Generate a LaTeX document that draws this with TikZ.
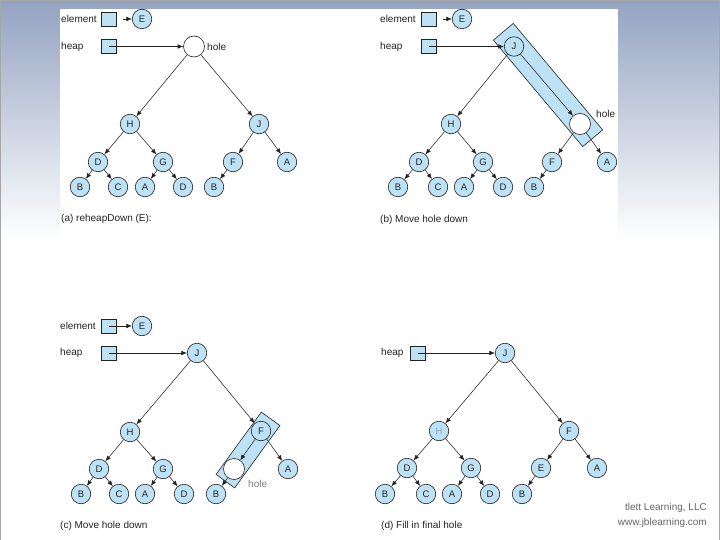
\documentclass[tikz,border=0pt]{standalone}
\usepackage{fontspec}
\setmainfont{Liberation Sans}
\usetikzlibrary{arrows.meta,calc}
\definecolor{nb}{RGB}{190,226,245}
\definecolor{bgtop}{RGB}{148,163,194}
\definecolor{ink}{RGB}{35,35,35}
\definecolor{lighttxt}{RGB}{140,170,200}
\begin{document}
\begin{tikzpicture}[x=1pt,y=-1pt,
  tn/.style={circle,draw=ink,fill=nb,minimum size=19.5pt,inner sep=0pt,line width=0.6pt,font=\fontsize{9.5}{10}\selectfont,text=ink},
  holec/.style={circle,draw=ink,fill=white,minimum size=21pt,inner sep=0pt,line width=0.6pt},
  tb/.style={draw=ink,fill=nb,minimum width=15pt,minimum height=14pt,inner sep=0pt,line width=0.6pt},
  lbl/.style={anchor=west,font=\fontsize{10}{11}\selectfont,text=ink,inner sep=0pt},
  arr/.style={-{Latex[length=5.5pt,width=4.5pt]},line width=0.55pt,draw=ink},
  band/.style={draw=ink,fill=nb,line width=0.6pt,inner sep=0pt}]
\useasboundingbox (0,0) rectangle (720,540);
\fill[white] (0,0) rectangle (720,540);
\shade[top color=bgtop,bottom color=white] (0,0) rectangle (720,240);
\fill[white] (60,9) rectangle (618,540);
\draw[gray!70,line width=1.5pt] (0.5,540) -- (0.5,0.5) -- (719.5,0.5) -- (719.5,540);

% ---------- panel (a)
\node[lbl] (ael) at (61,19) {element};
\node[tb] (aeb) at (108.5,19) {};
\node[tn] (aE) at (142,19) {E};
\coordinate (aes) at (123,19);
\draw[arr] (aes) -- (aE);
\node[lbl] (ahl) at (61,46.5) {heap};
\node[tb] (ahb) at (108.5,46.5) {};
\node[holec] (ar) at (194,46.5) {};
\node[lbl] (ahole) at (207,46.5) {hole};
\node[tn] (aH) at (130,124) {H};
\node[tn] (aJ) at (259,124) {J};
\node[tn] (aD) at (98,162) {D};
\node[tn] (aG) at (163,162) {G};
\node[tn] (aF) at (233,162) {F};
\node[tn] (aA) at (287,162) {A};
\node[tn] (aB1) at (80,187) {B};
\node[tn] (aC1) at (118,187) {C};
\node[tn] (aA1) at (145,187) {A};
\node[tn] (aD1) at (183,187) {D};
\node[tn] (aB2) at (214,187) {B};
\draw[arr] (ahb.center) -- (ar);
\foreach \p/\c in {ar/aH,ar/aJ,aH/aD,aH/aG,aJ/aF,aJ/aA,aD/aB1,aD/aC1,aG/aA1,aG/aD1,aF/aB2}
  \draw[arr] (\p) -- (\c);
\node[lbl] (acap) at (61,219) {(a) reheapDown (E):};

% ---------- panel (b)
\node[band,rotate=-50,minimum width=139pt,minimum height=26pt] (bband) at (548,85) {};
\node[lbl] (bel) at (380,19) {element};
\node[tb] (beb) at (428.5,19) {};
\node[tn] (bE) at (462,19) {E};
\coordinate (bes) at (443,19);
\draw[arr] (bes) -- (bE);
\node[lbl] (bhl) at (380,46.5) {heap};
\node[tb] (bhb) at (428.5,46.5) {};
\node[tn] (bJ) at (514,46.5) {J};
\node[holec] (bhole) at (580,124) {};
\node[lbl] (bholel) at (596,114) {hole};
\node[tn] (bH) at (451,124) {H};
\node[tn] (bD) at (419,162) {D};
\node[tn] (bG) at (483,162) {G};
\node[tn] (bF) at (552,162) {F};
\node[tn] (bA) at (607,162) {A};
\node[tn] (bB1) at (398,187) {B};
\node[tn] (bC1) at (438,187) {C};
\node[tn] (bA1) at (464,187) {A};
\node[tn] (bD1) at (503,187) {D};
\node[tn] (bB2) at (534,187) {B};
\draw[arr] (bhb.center) -- (bJ);
\foreach \p/\c in {bJ/bH,bJ/bhole,bhole/bF,bhole/bA,bH/bD,bH/bG,bD/bB1,bD/bC1,bG/bA1,bG/bD1,bF/bB2}
  \draw[arr] (\p) -- (\c);
\node[lbl] (bcap) at (380,220) {(b) Move hole down};

% ---------- panel (c)
\node[band,rotate=54,minimum width=77pt,minimum height=23pt] (cband) at (248,450) {};
\node[lbl] (cel) at (60,326) {element};
\node[tb] (ceb) at (108.5,326) {};
\node[tn] (cE) at (142,326) {E};
\draw[arr] (ceb.center) -- (cE);
\node[lbl] (chl) at (60,353) {heap};
\node[tb] (chb) at (108.5,353) {};
\node[tn] (cJ) at (197,353) {J};
\node[tn] (cH) at (130,432) {H};
\node[tn] (cF) at (261,431) {F};
\node[tn] (cD) at (99,469) {D};
\node[tn] (cG) at (163,469) {G};
\node[holec] (chole) at (234,469) {};
\node[tn] (cA) at (288,469) {A};
\node[lbl,text=gray] (cholel) at (248,484) {hole};
\node[tn] (cB1) at (81,494) {B};
\node[tn] (cC1) at (119,494) {C};
\node[tn] (cA1) at (145,494) {A};
\node[tn] (cD1) at (184,494) {D};
\node[tn] (cB2) at (216,494) {B};
\draw[arr] (chb.center) -- (cJ);
\foreach \p/\c in {cJ/cH,cJ/cF,cF/chole,cF/cA,cH/cD,cH/cG,cD/cB1,cD/cC1,cG/cA1,cG/cD1,chole/cB2}
  \draw[arr] (\p) -- (\c);
\node[lbl] (ccap) at (60,526) {(c) Move hole down};

% ---------- panel (d)
\node[lbl] (dhl) at (381,353) {heap};
\node[tb] (dhb) at (417.5,353) {};
\node[tn] (dJ) at (505,353) {J};
\node[tn,text=lighttxt] (dH) at (439,431) {H};
\node[tn] (dF) at (569,431) {F};
\node[tn] (dD) at (407,468) {D};
\node[tn] (dG) at (471,468) {G};
\node[tn] (dE) at (541,468) {E};
\node[tn] (dA) at (597,468) {A};
\node[tn] (dB1) at (385,494) {B};
\node[tn] (dC1) at (426,494) {C};
\node[tn] (dA1) at (452,494) {A};
\node[tn] (dD1) at (490,494) {D};
\node[tn] (dB2) at (522,494) {B};
\draw[arr] (dhb.center) -- (dJ);
\foreach \p/\c in {dJ/dH,dJ/dF,dF/dE,dF/dA,dH/dD,dH/dG,dD/dB1,dD/dC1,dG/dA1,dG/dD1,dE/dB2}
  \draw[arr] (\p) -- (\c);
\node[lbl] (dcap) at (381,526) {(d) Fill in final hole};

% ---------- credit
\node[anchor=east,inner sep=0pt,font=\fontsize{10}{12}\selectfont,text=gray!80!black] (cr1) at (707,508) {tlett Learning, LLC};
\node[anchor=east,inner sep=0pt,font=\fontsize{10}{12}\selectfont,text=gray!80!black] (cr2) at (707,523) {www.jblearning.com};
\end{tikzpicture}
\end{document}
